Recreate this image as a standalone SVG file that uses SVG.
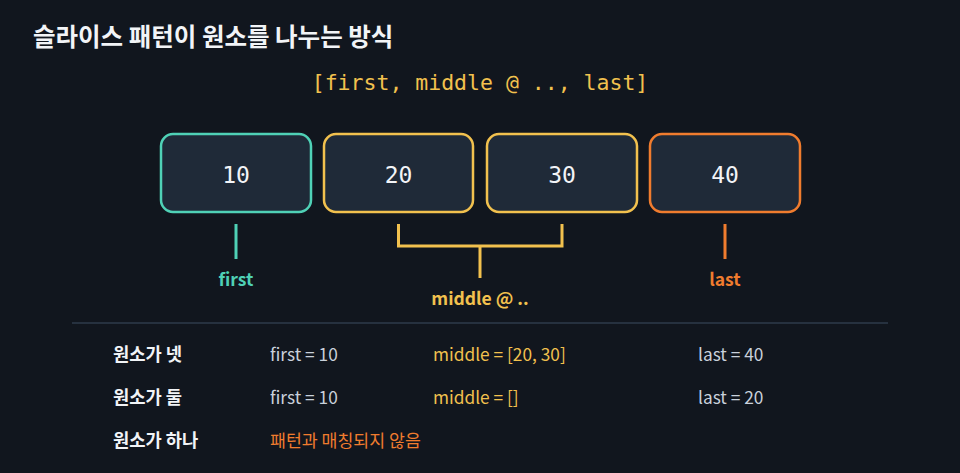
<svg xmlns="http://www.w3.org/2000/svg" width="960" height="473" viewBox="0 0 960 473">
<style>
.sans{font-family:"Noto Sans CJK KR","Noto Sans",sans-serif}
.mono{font-family:"DejaVu Sans Mono","Liberation Mono",monospace}
.box{fill:#1f2a38;stroke-width:2.5}
.num{font-size:23px;fill:#f2f4f7;text-anchor:middle}
.lbl{font-size:17.5px;font-weight:700;text-anchor:middle}
.rowh{font-size:17.7px;font-weight:700;fill:#f2f4f7}
.cell{font-size:17.3px;fill:#c9d1db}
.teal{fill:#4fd1b6}
.yel{fill:#f2c14e}
.org{fill:#f07c2e}
</style>
<rect width="960" height="473" fill="#11161e"/>
<text class="sans" x="33" y="46" font-size="24.5" font-weight="700" fill="#f2f4f7">슬라이스 패턴이 원소를 나누는 방식</text>
<text class="mono yel" x="480" y="90" font-size="21.5" text-anchor="middle">[first, middle @ .., last]</text>

<g id="node-10">
<rect class="box" x="161" y="134" width="150" height="78" rx="12" stroke="#4fd1b6"/>
<text class="mono num" x="236" y="183">10</text>
</g>
<g id="node-20">
<rect class="box" x="324" y="134" width="149" height="78" rx="12" stroke="#f2c14e"/>
<text class="mono num" x="398.5" y="183">20</text>
</g>
<g id="node-30">
<rect class="box" x="487" y="134" width="150" height="78" rx="12" stroke="#f2c14e"/>
<text class="mono num" x="562" y="183">30</text>
</g>
<g id="node-40">
<rect class="box" x="650" y="134" width="150" height="78" rx="12" stroke="#f07c2e"/>
<text class="mono num" x="725" y="183">40</text>
</g>

<g id="connectors" fill="none" stroke-width="3">
<line x1="236" y1="224" x2="236" y2="259" stroke="#4fd1b6"/>
<polyline points="398.5,224 398.5,246 562,246 562,224" stroke="#f2c14e"/>
<line x1="480" y1="246" x2="480" y2="278" stroke="#f2c14e"/>
<line x1="725" y1="224" x2="725" y2="259" stroke="#f07c2e"/>
</g>

<g id="label-first"><text class="sans lbl teal" x="236" y="286">first</text></g>
<g id="label-middle"><text class="sans lbl yel" x="480" y="305">middle @ ..</text></g>
<g id="label-last"><text class="sans lbl org" x="725" y="286">last</text></g>

<line x1="72" y1="323" x2="888" y2="323" stroke="#2e3b4b" stroke-width="1.5"/>

<g id="table" class="sans">
<text class="rowh" x="113" y="361">원소가 넷</text>
<text class="cell" x="270" y="361">first = 10</text>
<text class="cell yel" x="433" y="361">middle = [20, 30]</text>
<text class="cell" x="698" y="361">last = 40</text>
<text class="rowh" x="113" y="404">원소가 둘</text>
<text class="cell" x="270" y="404">first = 10</text>
<text class="cell yel" x="433" y="404">middle = []</text>
<text class="cell" x="698" y="404">last = 20</text>
<text class="rowh" x="113" y="447">원소가 하나</text>
<text class="cell org" x="270" y="447">패턴과 매칭되지 않음</text>
</g>
</svg>
